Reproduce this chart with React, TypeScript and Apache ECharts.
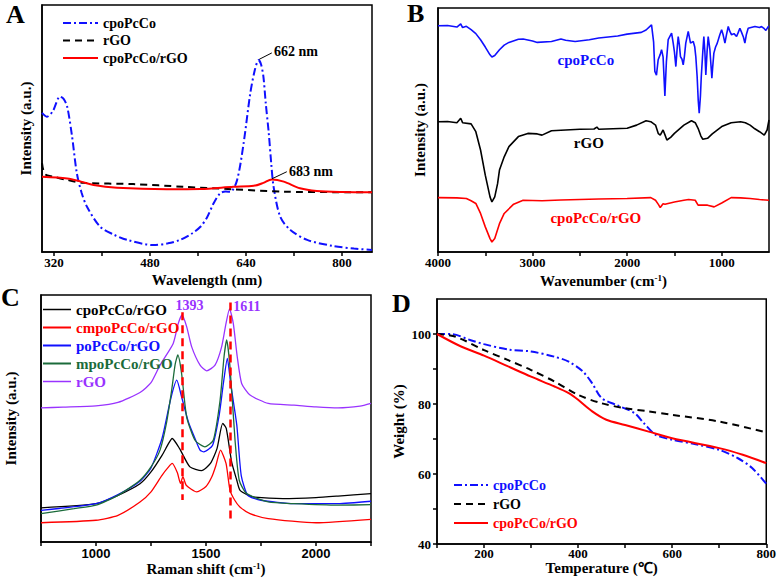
import React, { useEffect, useRef } from "react";
import * as echarts from "echarts";

const SERIF = "Liberation Serif";
const SANS = "Liberation Sans";
const BLUE = "#1010ff";
const RED = "#ff0000";
const BLACK = "#000000";
const GREEN = "#1b6b3a";
const PURPLE = "#9933ff";

// ---------- Panel A : UV-vis ----------
const uvCpoPcCo: [number, number][] = [
  [300, 56.3], [308, 54.8], [318, 57], [330, 62.9], [336, 62], [342, 58.8], [350, 47], [358, 32],
  [366, 24], [375, 18.3], [397, 10.2], [420, 7], [442, 4.9], [486, 2.8], [510, 3.5], [530, 4.9],
  [550, 7.5], [564, 10.2], [575, 14], [586, 19.7], [597, 23.8], [606, 24.5], [614, 24.4], [625, 29],
  [636, 44], [647, 64], [655, 74], [661, 77.7], [665, 76], [669, 71], [673, 60], [678, 48], [682, 36],
  [686, 26.4], [697, 14.3], [714, 8.9], [742, 4.9], [786, 2.4], [820, 1.4], [850, 0.8],
];
const uvRGO: [number, number][] = [
  [300, 36], [305, 31.5], [319, 30.5], [340, 29.3], [369, 28], [452, 27.5], [536, 26.4],
  [619, 25.4], [703, 24.4], [850, 24.2],
];
const uvComposite: [number, number][] = [
  [300, 30.5], [342, 29.8], [365, 28.5], [386, 27.1], [425, 26], [508, 25.4], [564, 25.5], [619, 26.4],
  [653, 26.8], [669, 28], [683, 29.4], [703, 28.5], [730, 25.8], [758, 24.7], [800, 24.3], [850, 24.2],
];
const uvTicks = [320, 400, 480, 560, 640, 720, 800];
const uvLabels = [320, 480, 640, 800];

// ---------- Panel B : FTIR ----------
const irCpoPcCo: [number, number][] = [
  [4000, 92.7], [3900, 92.8], [3800, 92.2], [3760, 93.5], [3740, 92], [3700, 92.5], [3650, 91.1], [3600, 89.5],
  [3550, 87], [3500, 84], [3450, 80.8], [3430, 79.9], [3400, 80.5], [3350, 82.9], [3300, 84.8], [3250, 85.9],
  [3150, 87.2], [3100, 87.3], [3000, 86.5], [2950, 85.9], [2800, 86.3], [2700, 87.3], [2650, 86.8], [2550, 86.3],
  [2400, 87], [2300, 87.7], [2100, 88.5], [2000, 89.3], [1850, 90], [1800, 91], [1742, 93.1], [1720, 86],
  [1707, 74], [1690, 72.5], [1672, 78.8], [1650, 81], [1636, 82.9], [1620, 80], [1601, 64], [1585, 78],
  [1566, 87], [1530, 89.7], [1513, 85.6], [1500, 82], [1485, 76], [1470, 84], [1460, 88.3], [1448, 85],
  [1436, 80.1], [1420, 79], [1407, 76.7], [1395, 80], [1380, 85.6], [1354, 90.4], [1330, 85.6], [1301, 86.3],
  [1285, 84], [1274, 80.1], [1260, 72], [1248, 62], [1238, 56.9], [1225, 64], [1216, 71.9], [1200, 82],
  [1189, 88.3], [1178, 82], [1168, 72.6], [1155, 82], [1143, 88.3], [1125, 82.9], [1104, 71.2], [1095, 76],
  [1083, 81.5], [1065, 84], [1047, 85.6], [1020, 89], [1001, 91.1], [985, 89], [966, 85.6], [950, 89],
  [931, 92.4], [915, 90.5], [896, 89], [870, 89.5], [843, 88.3], [825, 90], [808, 91.7], [790, 90],
  [770, 88], [755, 85.6], [740, 89], [720, 91.7], [690, 92], [649, 92.4], [600, 92], [579, 92.4],
  [550, 91.5], [533, 90.8], [508, 92.4], [500, 92.5],
];
const irRGO: [number, number][] = [
  [4000, 53.4], [3900, 53.5], [3800, 53], [3760, 54.8], [3740, 53], [3650, 52.5], [3600, 49.3], [3550, 41.8],
  [3500, 31.5], [3450, 22.6], [3430, 20.5], [3400, 22.6], [3370, 28], [3350, 33.6], [3300, 39], [3250, 43.2],
  [3150, 47.3], [3050, 48.6], [2950, 48.4], [2900, 47.9], [2800, 49.7], [2500, 50.3], [2350, 50.4], [2320, 51.2],
  [2300, 50.3], [2000, 50.7], [1900, 52], [1800, 53.8], [1750, 53.4], [1700, 52], [1670, 48.5], [1650, 47.9],
  [1620, 50], [1600, 48], [1580, 45.9], [1540, 47], [1500, 48.6], [1400, 52], [1320, 53.8], [1280, 53],
  [1250, 50.7], [1220, 47.5], [1200, 46.2], [1150, 46.6], [1100, 48.4], [1000, 51.4], [900, 53], [800, 53.4],
  [750, 53], [700, 52], [650, 50.5], [600, 49.3], [550, 47.9], [520, 50], [500, 54.1],
];
const irComposite: [number, number][] = [
  [4000, 22.3], [3800, 22.2], [3700, 21.9], [3650, 21], [3600, 19.9], [3550, 15.8], [3500, 10.3], [3450, 5.5],
  [3430, 4.1], [3400, 5.5], [3350, 11.6], [3300, 15.8], [3200, 19.6], [3100, 21.2], [2900, 21], [2700, 21.3],
  [2500, 21.5], [2300, 21.7], [2000, 21.9], [1750, 22.3], [1700, 21.2], [1670, 19.5], [1650, 18.2], [1620, 19.8],
  [1600, 19.6], [1500, 20.5], [1400, 21.2], [1350, 21.5], [1280, 21.2], [1250, 19.2], [1150, 19.2], [1080, 18.5],
  [1000, 20.1], [900, 22.3], [800, 22.2], [700, 21.9], [600, 21.5], [500, 21.2],
];
const irTicks = [1000, 1500, 2000, 2500, 3000, 3500, 4000];
const irLabels = [1000, 2000, 3000, 4000];

// ---------- Panel C : Raman ----------
const ramanCpo: [number, number][] = [
  [750, 13.8], [1000, 15.5], [1100, 18.9], [1200, 23.6], [1250, 28.4], [1300, 35.1], [1330, 39.9], [1346, 41.9],
  [1380, 37.8], [1427, 30.4], [1480, 28.9], [1520, 31.8], [1550, 37.8], [1576, 48], [1592, 46], [1617, 32.2],
  [1640, 25], [1654, 21], [1690, 19], [1720, 18.2], [1850, 17.6], [2000, 18], [2100, 18.6], [2250, 19.6],
];
const ramanCmpo: [number, number][] = [
  [750, 7.8], [1000, 8.8], [1100, 10.8], [1200, 16.2], [1250, 20.3], [1300, 27], [1330, 30.4], [1346, 31.8],
  [1370, 28], [1384, 23.7], [1395, 26.5], [1410, 23], [1458, 20.3], [1500, 22.5], [1526, 26.3], [1545, 31],
  [1566, 37.2], [1591, 31.8], [1609, 21], [1630, 17], [1654, 14.2], [1700, 11.5], [1783, 9.5], [2000, 7.8],
  [2250, 9.2],
];
const ramanPo: [number, number][] = [
  [750, 12.8], [1000, 15.5], [1100, 19.2], [1200, 24.6], [1250, 30], [1300, 41.9], [1340, 58.1], [1367, 65.5],
  [1389, 58.8], [1420, 48.6], [1450, 41.9], [1473, 37.2], [1490, 36.5], [1530, 39.2], [1560, 51.4], [1579, 64.2],
  [1597, 74.3], [1612, 64.2], [1640, 47.3], [1660, 27], [1690, 18.9], [1750, 16.9], [1900, 15.5], [2100, 15.5],
  [2250, 16.5],
];
const ramanMpo: [number, number][] = [
  [750, 11.5], [900, 13.5], [1000, 14.9], [1100, 18.9], [1200, 25], [1250, 30.4], [1291, 37.2], [1320, 48],
  [1344, 61.5], [1360, 72], [1372, 75.7], [1389, 68.3], [1412, 50.7], [1450, 41.2], [1495, 38.5], [1533, 41.2],
  [1564, 57.4], [1582, 75], [1594, 81.8], [1609, 70.9], [1632, 41.2], [1651, 25], [1685, 19.6], [1783, 16.2],
  [1900, 15.5], [2100, 14.9], [2250, 15.1],
];
const ramanRGO: [number, number][] = [
  [750, 54.3], [850, 54.6], [1000, 55.1], [1100, 56.5], [1200, 60.5], [1250, 64.5], [1291, 71.6], [1351, 80.4],
  [1374, 88.5], [1391, 91.9], [1412, 87.2], [1435, 79], [1473, 71.6], [1503, 69.3], [1541, 71.6], [1571, 79],
  [1591, 88.5], [1607, 94.4], [1624, 88.5], [1642, 75], [1662, 64.2], [1700, 59.5], [1783, 56.1], [1900, 55.4],
  [2000, 54.7], [2100, 54.3], [2200, 55], [2250, 56.1],
];
const ramanPeaks = [1393, 1611];
const ramanTicks = [750, 1000, 1250, 1500, 1750, 2000, 2250];
const ramanLabels = [1000, 1500, 2000];

// ---------- Panel D : TGA ----------
const tgaCpoPcCo: [number, number][] = [
  [100, 100], [130, 100], [170, 98.3], [200, 97.1], [250, 95.6], [300, 95], [350, 93.5], [380, 92.1],
  [410, 89.3], [430, 85.9], [450, 81.7], [480, 79.8], [520, 77.4], [540, 74.5], [565, 71.2], [600, 69.8],
  [650, 68.5], [700, 66.9], [740, 64.5], [770, 61.7], [800, 57.2],
];
const tgaRGO: [number, number][] = [
  [100, 100], [140, 99.2], [200, 95.4], [250, 92.6], [300, 89.7], [350, 86.4], [400, 82.6], [450, 80.2],
  [500, 78.8], [550, 77.9], [600, 76.9], [700, 75], [800, 71.9],
];
const tgaComposite: [number, number][] = [
  [100, 100], [150, 96.5], [200, 93.8], [250, 90.8], [300, 87.8], [350, 85], [380, 83.1], [400, 81.2],
  [430, 77.9], [460, 75.5], [500, 74], [550, 72.1], [600, 70.2], [700, 67.4], [750, 65.5], [800, 63.1],
];
const tgaXTicks = [100, 200, 300, 400, 500, 600, 700, 800];
const tgaXLabels = [200, 400, 600, 800];
const tgaYTicks = [40, 50, 60, 70, 80, 90, 100];
const tgaYLabels = [40, 60, 80, 100];

const DASHDOT = [8, 3, 2, 3];
const DASH = [7, 5];

const axisLine = { show: true, onZero: false, lineStyle: { color: "#000", width: 1.5 } };
const tickStyle = (vals: number[]) => ({
  show: true, inside: false, length: 4, customValues: vals, lineStyle: { color: "#000", width: 1.5 },
});
const labelStyle = (vals: number[], family: string, margin = 6) => ({
  show: true, customValues: vals, fontFamily: family, fontWeight: "bold", fontSize: 13, color: "#000", margin,
  formatter: (v: number) => String(v),
});
const nameStyle = {
  fontFamily: SERIF, fontWeight: "bold", fontSize: 15, color: "#000",
  rich: {
    t: { fontFamily: SERIF, fontWeight: "bold", fontSize: 15, color: "#000" },
    s: { fontFamily: SERIF, fontWeight: "bold", fontSize: 9, color: "#000", verticalAlign: "top" },
  },
};
const intensityAxis = (gridIndex: number, gap: number) => ({
  type: "value", gridIndex, min: 0, max: 100,
  axisLine, axisTick: { show: false }, axisLabel: { show: false }, splitLine: { show: false },
  name: "Intensity (a.u.)", nameLocation: "middle", nameGap: gap, nameTextStyle: nameStyle,
});

const line = (name: string, data: [number, number][], idx: number, color: string, width: number, type: any, smooth: any) => ({
  type: "line", name, data, xAxisIndex: idx, yAxisIndex: idx, symbol: "none", showSymbol: false,
  smooth, lineStyle: { color, width, type }, itemStyle: { color }, silent: true,
});

const textPoint = (coord: [number, number], text: string, color: string, size: number, position: string) => ({
  coord, value: text, symbol: "circle", symbolSize: 1, itemStyle: { color: "rgba(0,0,0,0)" },
  label: { show: true, formatter: text, position, distance: 1, color, fontFamily: SERIF, fontWeight: "bold", fontSize: size },
});

const hiddenSymbol = { color: "rgba(0,0,0,0)", borderWidth: 0, opacity: 0 };

const option: any = {
  animation: false,
  backgroundColor: "#ffffff",
  textStyle: { fontFamily: SERIF },
  grid: [
    { left: 42, top: 5, width: 330, height: 247 },
    { left: 438, top: 8, width: 331, height: 244 },
    { left: 41, top: 295, width: 330, height: 247 },
    { left: 437, top: 299, width: 331, height: 245 },
  ].map((g) => ({ ...g, show: true, borderColor: "#000", borderWidth: 1.5, backgroundColor: "transparent" })),
  xAxis: [
    {
      type: "value", gridIndex: 0, min: 300, max: 850, axisLine,
      axisTick: tickStyle(uvTicks), axisLabel: labelStyle(uvLabels, SERIF, 4), splitLine: { show: false },
      name: "Wavelength (nm)", nameLocation: "middle", nameGap: 20, nameTextStyle: nameStyle,
    },
    {
      type: "value", gridIndex: 1, min: 500, max: 4000, inverse: true, axisLine,
      axisTick: tickStyle(irTicks), axisLabel: labelStyle(irLabels, SERIF, 4), splitLine: { show: false },
      name: "{t|Wavenumber (cm}{s|-1}{t|)}", nameLocation: "middle", nameGap: 21, nameTextStyle: nameStyle,
    },
    {
      type: "value", gridIndex: 2, min: 750, max: 2250, axisLine,
      axisTick: tickStyle(ramanTicks), axisLabel: labelStyle(ramanLabels, SANS, 5), splitLine: { show: false },
      name: "{t|Raman shift (cm}{s|-1}{t|)}", nameLocation: "middle", nameGap: 19, nameTextStyle: nameStyle,
    },
    {
      type: "value", gridIndex: 3, min: 100, max: 800, axisLine,
      axisTick: tickStyle(tgaXTicks), axisLabel: labelStyle(tgaXLabels, SERIF, 3), splitLine: { show: false },
      name: "Temperature (℃)", nameLocation: "middle", nameGap: 9, nameTextStyle: nameStyle,
    },
  ],
  yAxis: [
    intensityAxis(0, 9),
    intensityAxis(1, 11),
    intensityAxis(2, 23),
    {
      type: "value", gridIndex: 3, min: 40, max: 110, axisLine,
      axisTick: tickStyle(tgaYTicks), axisLabel: labelStyle(tgaYLabels, SERIF, 6), splitLine: { show: false },
      name: "Weight (%)", nameLocation: "middle", nameGap: 31, nameTextStyle: nameStyle,
    },
  ],
  legend: [
    {
      left: 62, top: 16, padding: 0, orient: "vertical", itemWidth: 35, itemHeight: 14, itemGap: 3.5,
      itemStyle: hiddenSymbol,
      textStyle: { fontFamily: SERIF, fontWeight: "bold", fontSize: 14, color: "#000" },
      data: ["cpoPcCo", "rGO", "cpoPcCo/rGO"],
    },
    {
      left: 42, top: 302, padding: 0, orient: "vertical", itemWidth: 28, itemHeight: 15, itemGap: 3,
      itemStyle: hiddenSymbol,
      textStyle: { fontFamily: SERIF, fontWeight: "bold", fontSize: 15, color: "#000" },
      data: [
        { name: "cpoPcCo/rGO", lineStyle: { color: BLACK, type: "solid", width: 1.5 }, textStyle: { color: BLACK } },
        { name: "cmpoPcCo/rGO", textStyle: { color: RED } },
        { name: "poPcCo/rGO", textStyle: { color: BLUE } },
        { name: "mpoPcCo/rGO", textStyle: { color: GREEN } },
        { name: "rGO", lineStyle: { color: PURPLE, type: "solid", width: 1.5 }, textStyle: { color: PURPLE } },
      ],
    },
    {
      left: 453, top: 478, padding: 0, orient: "vertical", itemWidth: 34, itemHeight: 14, itemGap: 5,
      itemStyle: hiddenSymbol,
      textStyle: { fontFamily: SERIF, fontWeight: "bold", fontSize: 14, color: "#000" },
      data: [
        { name: "cpoPcCo", textStyle: { color: BLUE } },
        { name: "rGO", textStyle: { color: BLACK } },
        { name: "cpoPcCo/rGO", textStyle: { color: RED } },
      ],
    },
  ],
  series: [
    {
      ...line("cpoPcCo", uvCpoPcCo, 0, BLUE, 2, DASHDOT, 0.3),
      markLine: {
        silent: true, symbol: ["none", "none"], label: { show: false },
        lineStyle: { color: "#000", type: "solid", width: 1 },
        data: [
          [{ coord: [662, 78] }, { coord: [683, 80.6] }],
          [{ coord: [683, 29.6] }, { coord: [708, 32.5] }],
        ],
      },
      markPoint: {
        silent: true,
        data: [textPoint([684, 81], "662 nm", "#000", 14, "right"), textPoint([709, 32.6], "683 nm", "#000", 14, "right")],
      },
    },
    line("rGO", uvRGO, 0, BLACK, 2, DASH, 0.3),
    line("cpoPcCo/rGO", uvComposite, 0, RED, 2, "solid", 0.3),

    {
      ...line("cpoPcCo", irCpoPcCo, 1, BLUE, 1.6, "solid", false),
      markPoint: { silent: true, data: [textPoint([2437, 78.8], "cpoPcCo", BLUE, 15, "inside")] },
    },
    {
      ...line("rGO", irRGO, 1, BLACK, 1.6, "solid", false),
      markPoint: { silent: true, data: [textPoint([2405, 44.7], "rGO", BLACK, 15, "inside")] },
    },
    {
      ...line("cpoPcCo/rGO", irComposite, 1, RED, 1.6, "solid", false),
      markPoint: { silent: true, data: [textPoint([2331, 13.8], "cpoPcCo/rGO", RED, 15, "inside")] },
    },

    line("cpoPcCo/rGO", ramanCpo, 2, BLACK, 1.3, "solid", 0.2),
    {
      ...line("cmpoPcCo/rGO", ramanCmpo, 2, RED, 1.3, "solid", 0.2),
      markLine: {
        silent: true, symbol: ["none", "none"], label: { show: false },
        lineStyle: { color: RED, type: [8, 5], width: 2.5 },
        data: [
          [{ coord: [ramanPeaks[0], 93] }, { coord: [ramanPeaks[0], 17] }],
          [{ coord: [ramanPeaks[1], 97] }, { coord: [ramanPeaks[1], 8] }],
        ],
      },
    },
    line("poPcCo/rGO", ramanPo, 2, BLUE, 1.3, "solid", 0.2),
    line("mpoPcCo/rGO", ramanMpo, 2, GREEN, 1.3, "solid", 0.2),
    {
      ...line("rGO", ramanRGO, 2, PURPLE, 1.3, "solid", 0.2),
      markPoint: {
        silent: true,
        data: [
          textPoint([1425, 95.7], String(ramanPeaks[0]), PURPLE, 14, "inside"),
          textPoint([1686, 95.3], String(ramanPeaks[1]), PURPLE, 14, "inside"),
        ],
      },
    },

    line("cpoPcCo", tgaCpoPcCo, 3, BLUE, 2, DASHDOT, 0.3),
    line("rGO", tgaRGO, 3, BLACK, 2, DASH, 0.3),
    line("cpoPcCo/rGO", tgaComposite, 3, RED, 2, "solid", 0.3),
  ],
  graphic: [
    { type: "text", left: 6, top: 1, style: { text: "A", fontSize: 26, fontWeight: "bold", fontFamily: SERIF, fill: "#000" } },
    { type: "text", left: 407, top: 0, style: { text: "B", fontSize: 26, fontWeight: "bold", fontFamily: SERIF, fill: "#000" } },
    { type: "text", left: 1, top: 284, style: { text: "C", fontSize: 26, fontWeight: "bold", fontFamily: SERIF, fill: "#000" } },
    { type: "text", left: 392, top: 290, style: { text: "D", fontSize: 26, fontWeight: "bold", fontFamily: SERIF, fill: "#000" } },
  ],
};

export default function App() {
  const ref = useRef<HTMLDivElement>(null);
  useEffect(() => {
    document.body.style.margin = "0";
    const chart = echarts.init(ref.current!, null, { renderer: "svg" });
    chart.setOption(option);
    return () => chart.dispose();
  }, []);
  return <div ref={ref} style={{ width: 779, height: 582 }} />;
}
